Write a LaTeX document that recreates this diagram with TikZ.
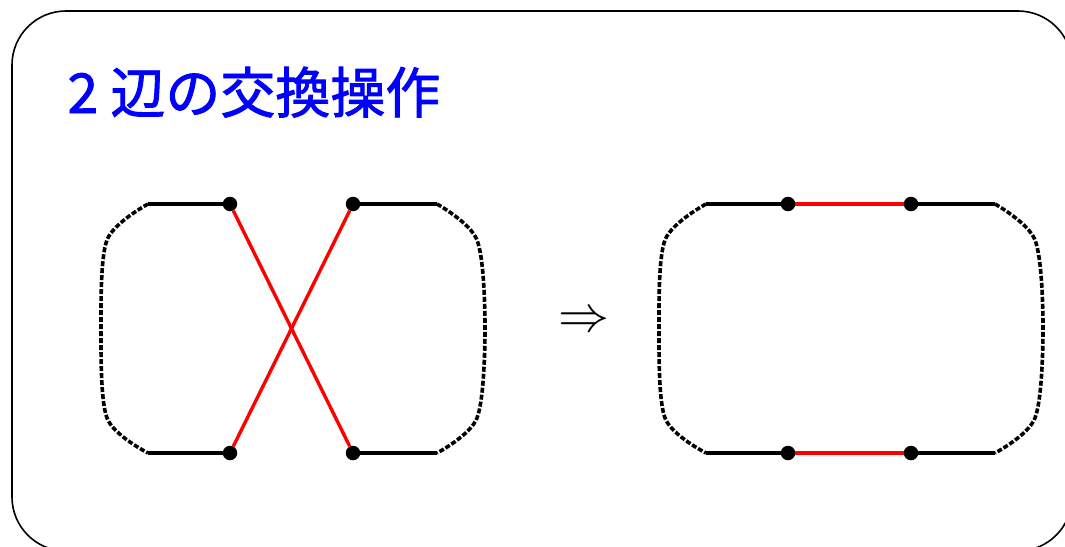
\documentclass[tikz,border=0pt]{standalone}
\usepackage{fontspec}
\newfontface\cjkfont[FakeBold=1.6]{Noto Sans CJK JP}
\usepackage{tikz}

\begin{document}
\begin{tikzpicture}[x=1pt, y=-1pt,
    edge/.style={line width=3.4pt},
    swap/.style={red, line width=3.4pt},
    rest/.style={line width=3.6pt, dash pattern=on 5pt off 2pt},
    vtx/.style={circle, fill=black, inner sep=0pt, minimum size=14.5pt}]
    \def\ytop{204}; % upper row y coordinate
    \def\ybot{453}; % lower row y coordinate
    \def\shift{558}; % offset of the second tour

    \useasboundingbox (0,0) rectangle (1065,546);
    % frame %%%%%%%%%%%%%%%%%%%%%%%%%%%%%%%%%%%%%%%%%%%%%%%%%%%%%%%%%%%%%%%
    \draw[line width=1.6pt, rounded corners=54pt] (12,11) rectangle (1072,551);
    \node[anchor=base west, text=blue, font=\cjkfont\fontsize{55}{60}\selectfont] (title) at (64,113) {2 辺の交換操作};

    % both tours %%%%%%%%%%%%%%%%%%%%%%%%%%%%%%%%%%%%%%%%%%%%%%%%%%%%%%%%%%
    \foreach \dx/\n in {0/l, \shift/r}{
      \node[vtx] (\n1) at (230+\dx,\ytop) {};
      \node[vtx] (\n2) at (353+\dx,\ytop) {};
      \node[vtx] (\n3) at (230+\dx,\ybot) {};
      \node[vtx] (\n4) at (353+\dx,\ybot) {};
      \coordinate (\n tl) at (148+\dx,\ytop);
      \coordinate (\n bl) at (148+\dx,\ybot);
      \coordinate (\n tr) at (437+\dx,\ytop);
      \coordinate (\n br) at (437+\dx,\ybot);
      % solid tour edges
      \draw[edge] (\n tl) -- (\n1);
      \draw[edge] (\n bl) -- (\n3);
      \draw[edge] (\n2) -- (\n tr);
      \draw[edge] (\n4) -- (\n br);
      % rest of the tour
      \draw[rest] plot[smooth, tension=.5] coordinates {(\n tl) (107+\dx,240) (101+\dx,328) (107+\dx,418) (\n bl)};
      \draw[rest] plot[smooth, tension=.5] coordinates {(\n tr) (477+\dx,240) (485+\dx,328) (477+\dx,418) (\n br)};
    }

    % exchanged edges %%%%%%%%%%%%%%%%%%%%%%%%%%%%%%%%%%%%%%%%%%%%%%%%%%%%%%
    \draw[swap] (l1) -- (l4);
    \draw[swap] (l2) -- (l3);
    \draw[swap] (r1) -- (r2);
    \draw[swap] (r3) -- (r4);

    \node (imp) at (584,322) {\scalebox{5.1}{$\Rightarrow$}};
\end{tikzpicture}
\end{document}
